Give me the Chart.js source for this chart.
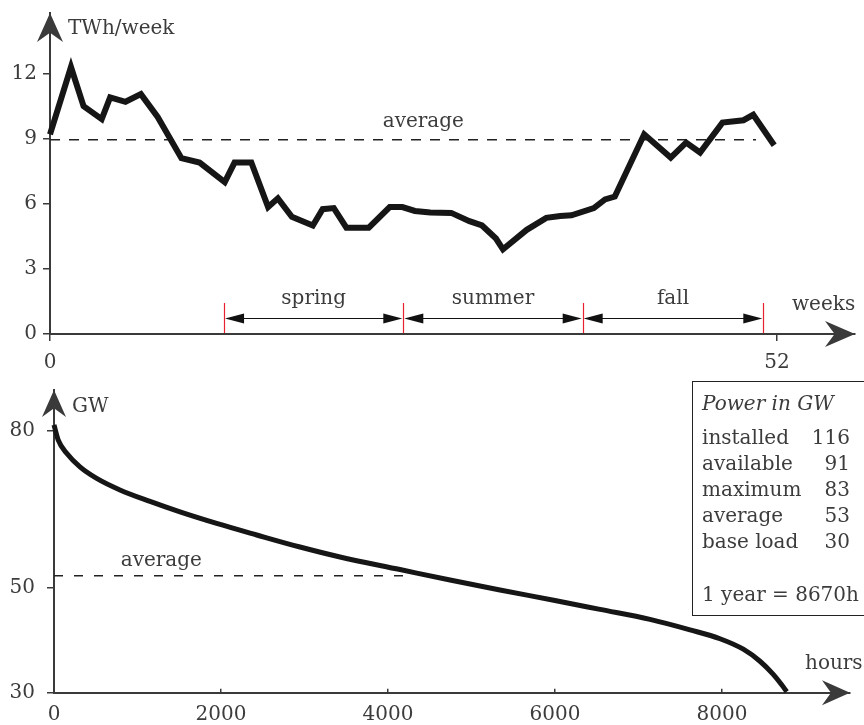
<!DOCTYPE html>
<html>
<head>
<meta charset="utf-8">
<script src="https://cdn.jsdelivr.net/npm/chart.js@4.4.1/dist/chart.umd.min.js"></script>
<style>
  body { margin: 0; background: #fff; }
  #wrap { position: relative; width: 864px; height: 725px; overflow: hidden; }
  #top { position: absolute; left: 0; top: 0; }
  #bottom { position: absolute; left: 0; top: 370px; }
  #box { position: absolute; left: 692px; top: 381px; width: 200px; height: 233px;
         border: 1.5px solid #222; font-family: "DejaVu Serif"; font-size: 20px; color: #3c3c3c; }
  .ln { position: absolute; left: 9px; width: 148px; height: 26px; line-height: 26px; white-space: nowrap; }
  .ln span { position: absolute; right: 0; top: 0; }
</style>
</head>
<body>
<div id="wrap">
  <canvas id="top" width="864" height="370"></canvas>
  <canvas id="bottom" width="864" height="355"></canvas>
  <div id="box">
    <div class="ln" style="top:8px"><i>Power in GW</i></div>
    <div class="ln" style="top:42px">installed<span>116</span></div>
    <div class="ln" style="top:68px">available<span>91</span></div>
    <div class="ln" style="top:94px">maximum<span>83</span></div>
    <div class="ln" style="top:120px">average<span>53</span></div>
    <div class="ln" style="top:146px">base load<span>30</span></div>
    <div class="ln" style="top:199px">1 year = 8670h</div>
  </div>
</div>
<script>
// weekly energy (top panel)
const weeks = [0, 1.5, 2.4, 3.7, 4.3, 5.4, 6.5, 7.7, 9.4, 10.7, 12.5, 13.2, 14.4, 15.6, 16.3, 17.3, 18.8, 19.5, 20.3, 21.2,
  22.8, 24.3, 25.2, 26.1, 27.2, 28.7, 30.0, 30.9, 31.9, 32.4, 34.1, 35.5, 36.5, 37.3, 38.9, 39.7, 40.4, 42.5, 44.4, 45.5,
  46.5, 48.1, 49.6, 50.3, 51.8];
const energy = [9.2, 12.3, 10.5, 9.9, 10.9, 10.7, 11.05, 10.0, 8.1, 7.9, 7.0, 7.9, 7.9, 5.85, 6.25, 5.4, 5.0, 5.75, 5.8, 4.9,
  4.9, 5.85, 5.85, 5.67, 5.6, 5.58, 5.2, 5.0, 4.4, 3.9, 4.8, 5.35, 5.44, 5.47, 5.8, 6.2, 6.33, 9.2, 8.13, 8.82,
  8.36, 9.74, 9.85, 10.1, 8.7];
const avgEnergy = 8.95;
const avgEnergySpan = [0, 50.5];
const seasonBounds = [12.45, 25.27, 38.1, 51.02];
const seasonNames = ['spring', 'summer', 'fall'];
const topYTicks = [0, 3, 6, 9, 12];
const topXTicks = [0, 52];

// load duration curve (bottom panel)
const hours = [0, 51, 152, 311, 511, 790, 1150, 1509, 1948, 2428, 2946, 3425, 4144, 4743, 5341, 6000, 6539, 7138,
  7617, 7976, 8255, 8455, 8614, 8715, 8775];
const power = [81.1, 78.2, 75.7, 73.1, 70.9, 68.7, 66.5, 64.5, 62.3, 60.1, 57.8, 55.9, 53.5, 51.5, 49.6, 47.6, 45.9, 44.0,
  42.0, 40.3, 38.3, 36.0, 33.5, 31.5, 30.2];
const avgPower = 52.3;
const avgPowerSpan = [0, 4230];
const botYTicks = [30, 50, 80];
const botXTicks = [0, 2000, 4000, 6000, 8000];

const ink = '#3c3c3c';
const axisCol = '#3a3a3a';
const font = { family: 'DejaVu Serif', size: 20 };

function arrowHead(ctx, x, y, up, len, half) {
  ctx.save();
  ctx.translate(x, y);
  if (up) ctx.rotate(-Math.PI / 2);
  ctx.beginPath();
  ctx.moveTo(0, 0);
  ctx.lineTo(-len, -half);
  ctx.lineTo(-len * 0.68, 0);
  ctx.lineTo(-len, half);
  ctx.closePath();
  ctx.fillStyle = axisCol;
  ctx.fill();
  ctx.restore();
}

function tri(ctx, x, y, dir) {
  ctx.beginPath();
  ctx.moveTo(x, y);
  ctx.lineTo(x - dir * 19, y - 5);
  ctx.lineTo(x - dir * 19, y + 5);
  ctx.closePath();
  ctx.fill();
}

const topDecor = {
  id: 'topDecor',
  afterDatasetsDraw(chart) {
    const { ctx, chartArea, scales: { x, y } } = chart;
    const x0 = x.getPixelForValue(0), y0 = y.getPixelForValue(0);
    arrowHead(ctx, chartArea.right, y0, false, 30, 13);
    arrowHead(ctx, x0, chartArea.top, true, 29, 13);

    ctx.save();
    ctx.font = '20px "DejaVu Serif"';
    ctx.fillStyle = ink;
    ctx.textBaseline = 'alphabetic';
    ctx.textAlign = 'left';
    ctx.fillText('TWh/week', x0 + 18, chartArea.top + 21);
    ctx.fillText('weeks', chartArea.right - 63, y0 - 24);
    ctx.fillText('average', x.getPixelForValue(23.8), y.getPixelForValue(avgEnergy) - 13);

    // seasons: double arrows, then red boundary marks on top
    const ay = y0 - 16;
    ctx.strokeStyle = '#111';
    ctx.fillStyle = '#111';
    ctx.lineWidth = 1;
    for (let i = 0; i < seasonNames.length; i++) {
      const a = x.getPixelForValue(seasonBounds[i]) + 1;
      const b = x.getPixelForValue(seasonBounds[i + 1]) - 1;
      ctx.beginPath(); ctx.moveTo(a + 10, ay + 0.5); ctx.lineTo(b - 10, ay + 0.5); ctx.stroke();
      tri(ctx, a, ay + 0.5, -1);
      tri(ctx, b, ay + 0.5, 1);
    }
    ctx.strokeStyle = '#e8212e';
    ctx.lineWidth = 1.2;
    seasonBounds.forEach(b => {
      const px = Math.round(x.getPixelForValue(b)) + 0.5;
      ctx.beginPath(); ctx.moveTo(px, y0 - 31); ctx.lineTo(px, y0 - 1); ctx.stroke();
    });
    ctx.fillStyle = ink;
    ctx.textAlign = 'center';
    seasonNames.forEach((n, i) => {
      const mid = x.getPixelForValue((seasonBounds[i] + seasonBounds[i + 1]) / 2);
      ctx.fillText(n, mid, y0 - 30);
    });
    ctx.restore();
  }
};

const botDecor = {
  id: 'botDecor',
  afterDatasetsDraw(chart) {
    const { ctx, chartArea, scales: { x, y } } = chart;
    const x0 = x.getPixelForValue(0), y0 = y.getPixelForValue(30);
    arrowHead(ctx, chartArea.right, y0, false, 28, 12.5);
    arrowHead(ctx, x0, chartArea.top, true, 27, 12);
    ctx.save();
    ctx.font = '20px "DejaVu Serif"';
    ctx.fillStyle = ink;
    ctx.textAlign = 'left';
    ctx.fillText('GW', x0 + 18, chartArea.top + 22);
    ctx.fillText('hours', chartArea.right - 45, y0 - 24);
    ctx.fillText('average', x.getPixelForValue(799), y.getPixelForValue(avgPower) - 10);
    ctx.restore();
  }
};

const plain = v => String(v);

function axisOpts(extra) {
  return Object.assign({
    type: 'linear',
    grid: { drawOnChartArea: false, tickLength: 7, color: axisCol, lineWidth: 1.5 },
    border: { color: axisCol, width: 2 },
    ticks: { font, color: ink, padding: 6, maxRotation: 0, autoSkip: false, callback: plain }
  }, extra);
}

const baseOpts = {
  responsive: false,
  animation: false,
  events: [],
  plugins: { legend: { display: false }, tooltip: { enabled: false } }
};

new Chart(document.getElementById('top'), {
  type: 'line',
  data: {
    datasets: [{
      data: weeks.map((w, i) => ({ x: w, y: energy[i] })),
      borderColor: '#161616', borderWidth: 6, pointRadius: 0, tension: 0,
      borderJoinStyle: 'miter', clip: false
    }, {
      data: avgEnergySpan.map(w => ({ x: w, y: avgEnergy })),
      borderColor: '#222', borderWidth: 1.5, borderDash: [10, 9], pointRadius: 0
    }]
  },
  options: Object.assign({}, baseOpts, {
    layout: { padding: { top: 13, right: 9, left: 0, bottom: 0 } },
    scales: {
      x: axisOpts({
        min: 0, max: 57.58,
        afterBuildTicks(s) { s.ticks = topXTicks.map(v => ({ value: v })); },
        afterFit(s) { s.height = 36; s.paddingLeft = 0; s.paddingRight = 0; },
        ticks: { font, color: ink, padding: 10, maxRotation: 0, autoSkip: false, callback: plain }
      }),
      y: axisOpts({
        min: 0, max: 14.79,
        afterBuildTicks(s) { s.ticks = topYTicks.map(v => ({ value: v })); },
        afterFit(s) { s.width = 50; s.paddingTop = 0; s.paddingBottom = 0; }
      })
    }
  }),
  plugins: [topDecor]
});

new Chart(document.getElementById('bottom'), {
  type: 'line',
  data: {
    datasets: [{
      data: hours.map((h, i) => ({ x: h, y: power[i] })),
      borderColor: '#161616', borderWidth: 5, pointRadius: 0,
      cubicInterpolationMode: 'monotone', clip: false
    }, {
      data: avgPowerSpan.map(h => ({ x: h, y: avgPower })),
      borderColor: '#222', borderWidth: 1.5, borderDash: [9, 11], pointRadius: 0
    }]
  },
  options: Object.assign({}, baseOpts, {
    layout: { padding: { top: 20, right: 14, left: 0, bottom: 0 } },
    scales: {
      x: axisOpts({
        min: 0, max: 9533,
        afterBuildTicks(s) { s.ticks = botXTicks.map(v => ({ value: v })); },
        afterFit(s) { s.height = 32.3; s.paddingLeft = 0; s.paddingRight = 0; },
        grid: { drawOnChartArea: false, tickLength: -4, color: axisCol, lineWidth: 1.5 },
        ticks: { font, color: ink, padding: 14, maxRotation: 0, autoSkip: false, callback: plain }
      }),
      y: axisOpts({
        min: 30, max: 87.77,
        afterBuildTicks(s) { s.ticks = botYTicks.map(v => ({ value: v })); },
        afterFit(s) { s.width = 54; s.paddingTop = 0; s.paddingBottom = 0; },
        ticks: { font, color: ink, padding: 12, maxRotation: 0, autoSkip: false, callback: plain }
      })
    }
  }),
  plugins: [botDecor]
});
</script>
</body>
</html>
